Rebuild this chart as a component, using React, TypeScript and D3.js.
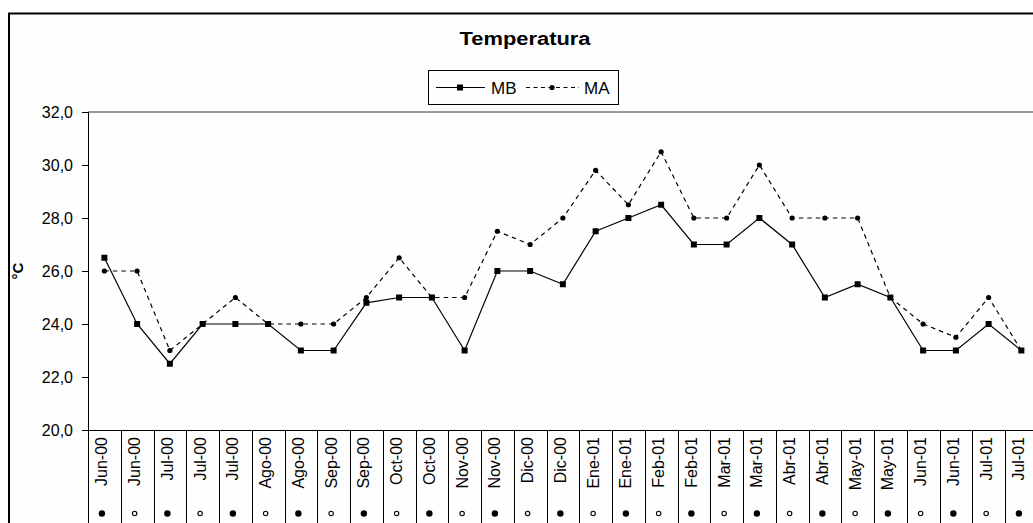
import React from "react";
import * as d3 from "d3";

const categories: string[] = [
  "Jun-00", "Jun-00", "Jul-00", "Jul-00", "Jul-00", "Ago-00", "Ago-00", "Sep-00", "Sep-00",
  "Oct-00", "Oct-00", "Nov-00", "Nov-00", "Dic-00", "Dic-00", "Ene-01", "Ene-01", "Feb-01",
  "Feb-01", "Mar-01", "Mar-01", "Abr-01", "Abr-01", "May-01", "May-01", "Jun-01", "Jun-01",
  "Jul-01", "Jul-01",
];

// bottom phase markers: true = filled dot, false = open dot
const phaseFilled: boolean[] = [
  true, false, true, false, true, false, true, false, true, false, true, false, true, false, true,
  false, true, false, true, false, true, false, true, false, true, false, true, false, true,
];

const mbValues: number[] = [
  26.5, 24.0, 22.5, 24.0, 24.0, 24.0, 23.0, 23.0, 24.8, 25.0, 25.0, 23.0, 26.0, 26.0, 25.5,
  27.5, 28.0, 28.5, 27.0, 27.0, 28.0, 27.0, 25.0, 25.5, 25.0, 23.0, 23.0, 24.0, 23.0,
];

const maValues: number[] = [
  26.0, 26.0, 23.0, 24.0, 25.0, 24.0, 24.0, 24.0, 25.0, 26.5, 25.0, 25.0, 27.5, 27.0, 28.0,
  29.8, 28.5, 30.5, 28.0, 28.0, 30.0, 28.0, 28.0, 28.0, 25.0, 24.0, 23.5, 25.0, 23.0,
];

const yDomain: [number, number] = [20, 32];
const yTickValues: number[] = [20, 22, 24, 26, 28, 30, 32];

const FONT = "'Liberation Sans', Arial, Helvetica, sans-serif";

export default function App() {
  const W = 1033;
  const H = 523;
  const left = 88;
  const top = 112;
  const bottom = 430;
  const step = 32.75;

  const x = d3
    .scaleBand<number>()
    .domain(categories.map((_, i) => i))
    .range([left, left + categories.length * step])
    .paddingInner(0)
    .paddingOuter(0);
  const cx = (i: number) => (x(i) as number) + x.bandwidth() / 2;

  const y = d3.scaleLinear().domain(yDomain).range([bottom, top]);

  const locale = d3.formatLocale({
    decimal: ",",
    thousands: ".",
    grouping: [3],
    currency: ["", "€"],
  });
  const fmt = locale.format(".1f");

  const line = d3
    .line<number>()
    .x((_, i) => cx(i))
    .y((d) => y(d));

  const plotRight = W + 10;

  return (
    <div style={{ position: "absolute", left: 0, top: 0 }}>
      <svg
        width={W}
        height={H}
        style={{ display: "block", background: "#ffffff" }}
        fontFamily={FONT}
      >
        {/* chart area */}
        <rect x={9} y={13.5} width={W + 20} height={H + 20} fill="#fefefe" stroke="#000" strokeWidth={2} />

        {/* title */}
        <text
          x={525}
          y={44.5}
          textAnchor="middle"
          fontSize={18}
          fontWeight="bold"
          fill="#000"
          textLength={131}
          lengthAdjust="spacingAndGlyphs"
        >
          Temperatura
        </text>

        {/* legend */}
        <g>
          <rect x={428.5} y={70.5} width={190} height={34} fill="#fefefe" stroke="#000" strokeWidth={1} />
          <line x1={436} x2={485} y1={87.5} y2={87.5} stroke="#000" strokeWidth={1.2} />
          <rect x={457} y={84.5} width={6} height={6} fill="#000" />
          <text x={491} y={93.5} fontSize={17} fill="#000">MB</text>
          <line x1={526} x2={579} y1={87.5} y2={87.5} stroke="#000" strokeWidth={1.2} strokeDasharray="4,3.5" />
          <circle cx={552} cy={87.5} r={2.6} fill="#000" />
          <text x={584} y={93.5} fontSize={17} fill="#000">MA</text>
        </g>

        {/* plot area top border */}
        <line x1={left} x2={plotRight} y1={top} y2={top} stroke="#9a9a9a" strokeWidth={2} />

        {/* y axis */}
        <line x1={left + 0.5} x2={left + 0.5} y1={top} y2={H} stroke="#000" strokeWidth={1} />
        {yTickValues.map((t) => (
          <g key={"yt" + t}>
            <line x1={82} x2={left} y1={Math.round(y(t)) + 0.5} y2={Math.round(y(t)) + 0.5} stroke="#000" strokeWidth={1} />
            <text x={73} y={y(t)} dy="0.35em" textAnchor="end" fontSize={16} fill="#000">
              {fmt(t)}
            </text>
          </g>
        ))}
        <text
          transform={`translate(23,${271}) rotate(-90)`}
          textAnchor="middle"
          fontSize={15}
          fontWeight="bold"
          fill="#000"
        >
          °C
        </text>

        {/* x axis */}
        <line x1={left} x2={plotRight} y1={bottom + 0.5} y2={bottom + 0.5} stroke="#000" strokeWidth={1} />
        {categories.map((_, i) => (
          <line
            key={"sep" + i}
            x1={Math.round((x(i) as number) + step) + 0.5}
            x2={Math.round((x(i) as number) + step) + 0.5}
            y1={bottom}
            y2={H}
            stroke="#000"
            strokeWidth={1}
          />
        ))}
        {categories.map((c, i) => (
          <text
            key={"xl" + i}
            transform={`translate(${cx(i) + 3},${437}) rotate(-90)`}
            textAnchor="end"
            fontSize={16}
            fill="#000"
          >
            {c}
          </text>
        ))}
        {phaseFilled.map((f, i) =>
          f ? (
            <circle key={"ph" + i} cx={cx(i) - 2.5} cy={513.5} r={3.2} fill="#000" />
          ) : (
            <circle key={"ph" + i} cx={cx(i) - 2.5} cy={513.5} r={2.2} fill="none" stroke="#000" strokeWidth={1.1} />
          )
        )}

        {/* series MA (dashed) */}
        <path d={line(maValues) as string} fill="none" stroke="#000" strokeWidth={1.2} strokeDasharray="4.5,4" />
        {maValues.map((v, i) => (
          <circle key={"ma" + i} cx={cx(i)} cy={y(v)} r={2.6} fill="#000" />
        ))}

        {/* series MB (solid) */}
        <path d={line(mbValues) as string} fill="none" stroke="#000" strokeWidth={1.2} />
        {mbValues.map((v, i) => (
          <rect key={"mb" + i} x={cx(i) - 3} y={y(v) - 3} width={6} height={6} fill="#000" />
        ))}
      </svg>
    </div>
  );
}
